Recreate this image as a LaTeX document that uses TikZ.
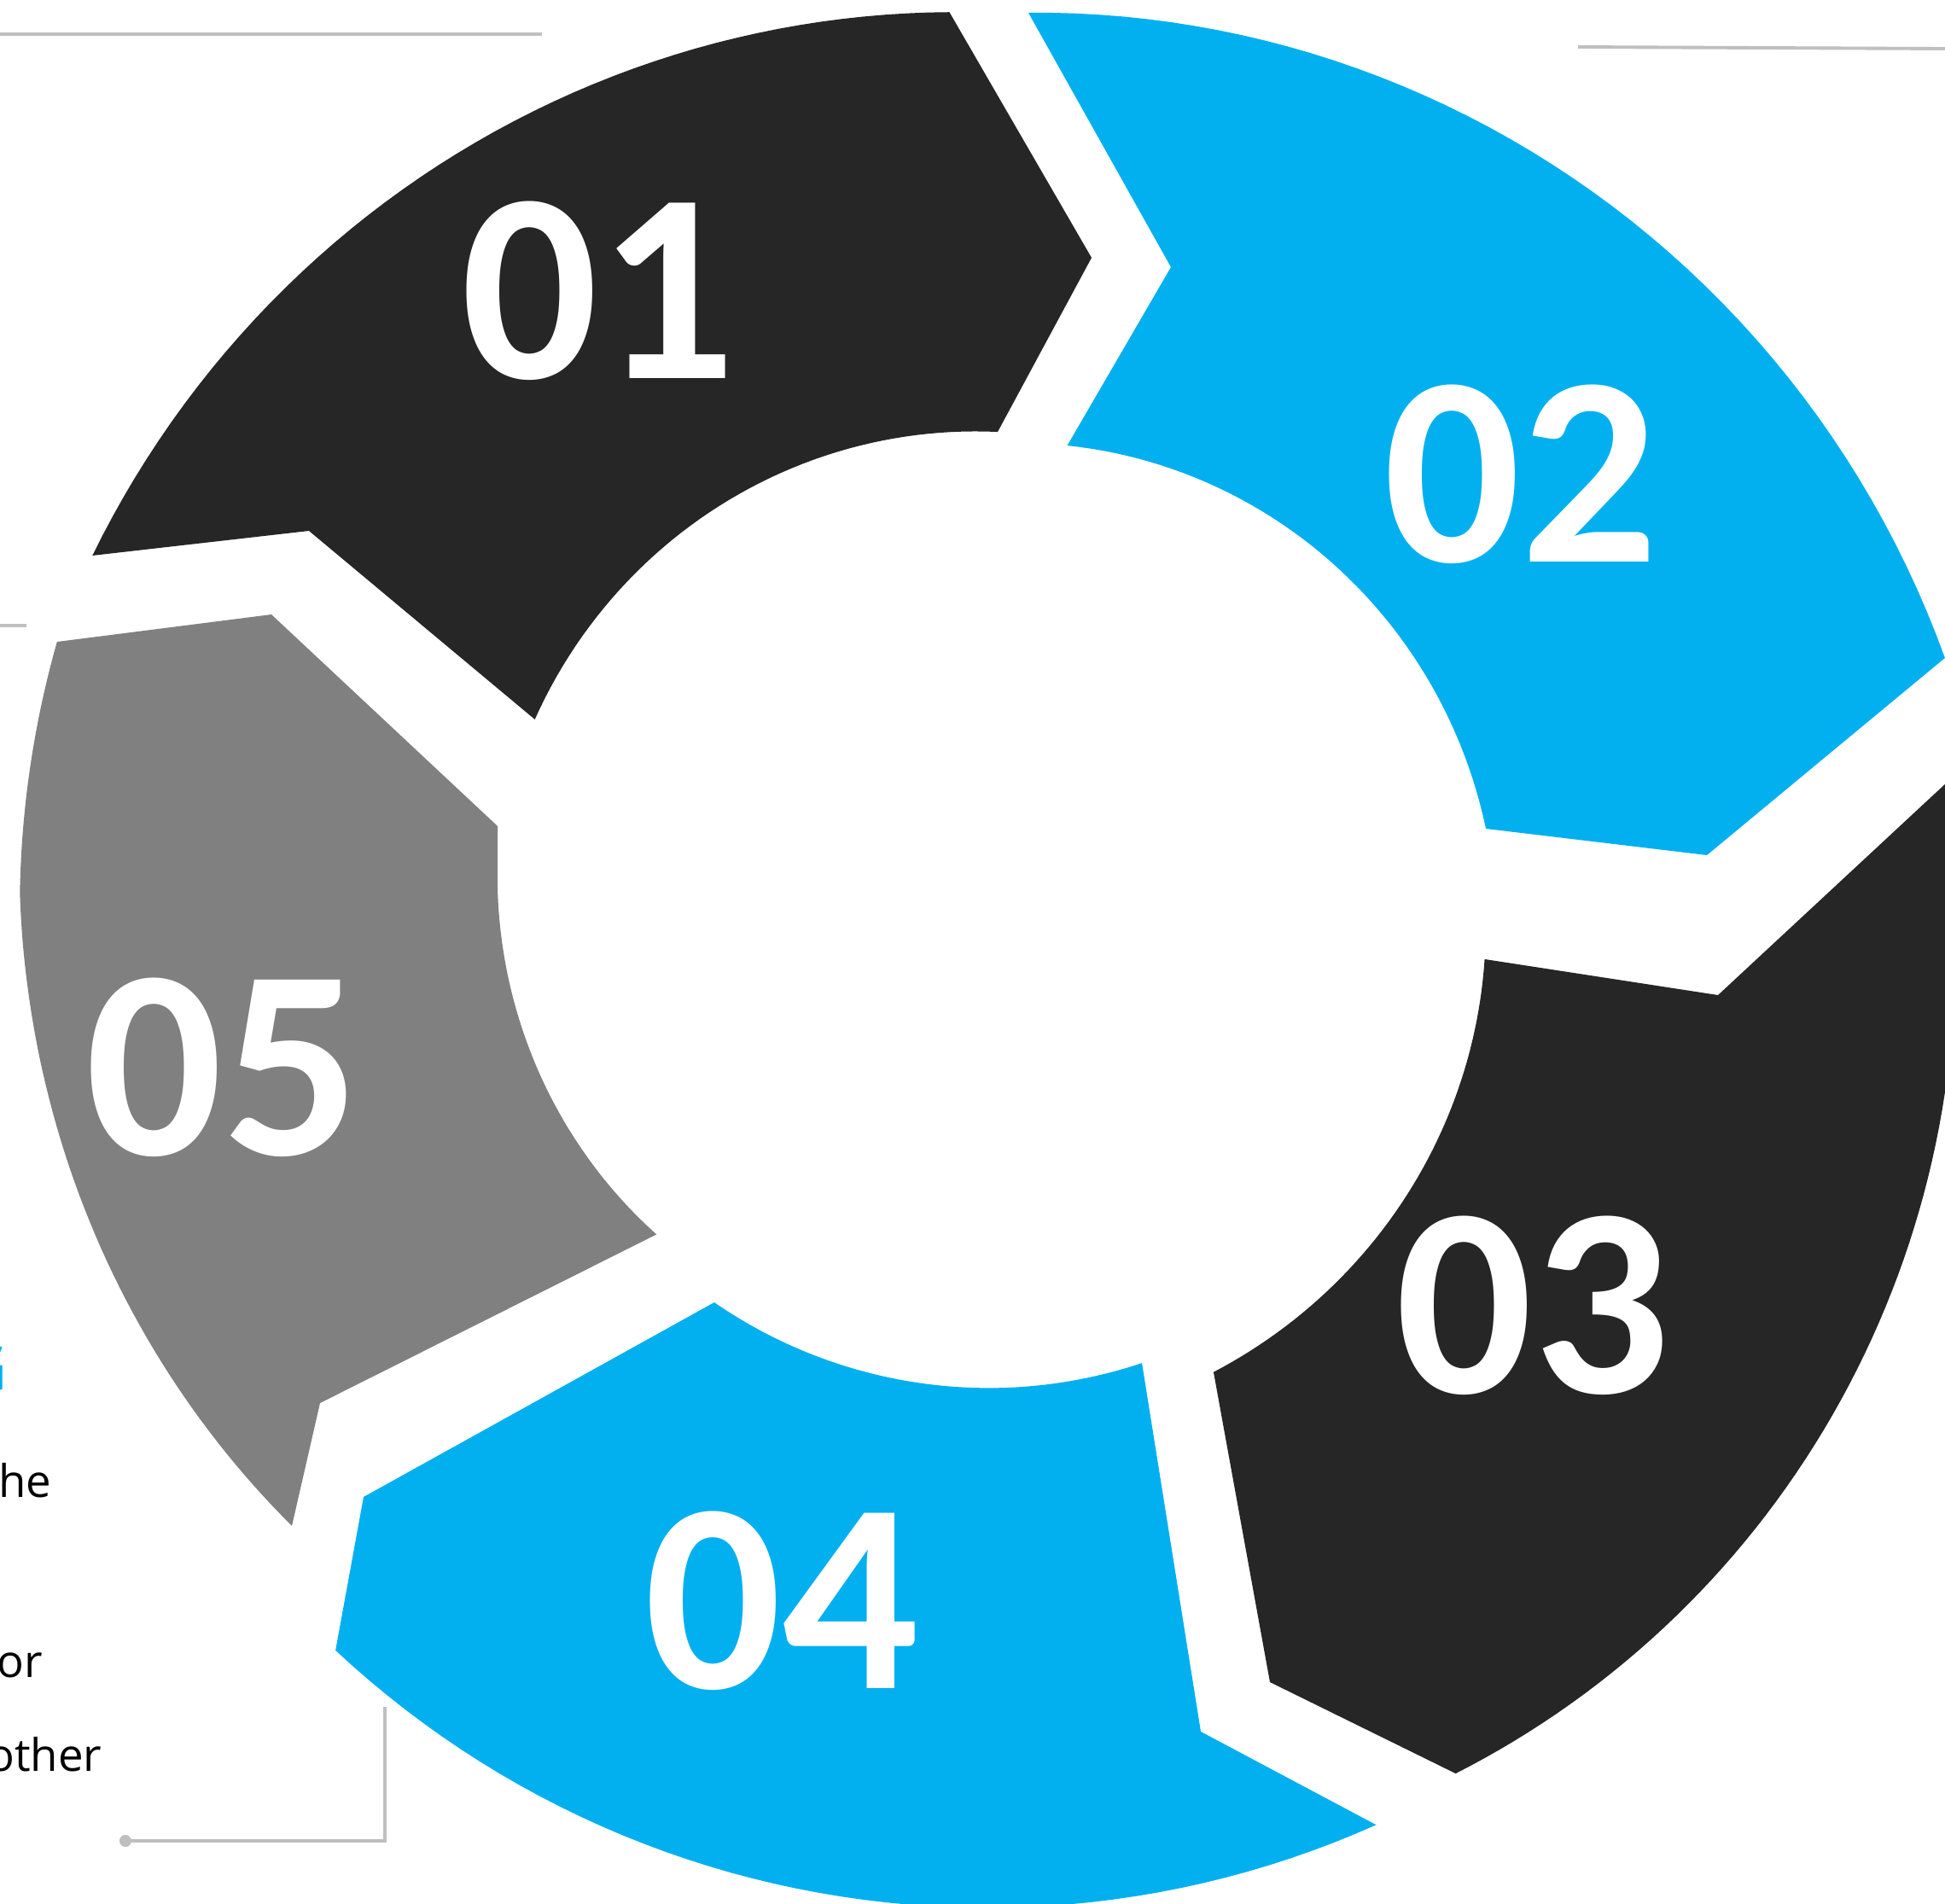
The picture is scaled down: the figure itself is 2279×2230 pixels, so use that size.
\documentclass[tikz,border=0pt]{standalone}
\usepackage{fontspec}
\setmainfont{Open Sans}
\newfontfamily\numfont{Carlito}
\usepackage{tikz}

\definecolor{darkseg}{HTML}{262626}
\definecolor{blueseg}{HTML}{02B0F0}
\definecolor{grayseg}{HTML}{808080}
\definecolor{guideline}{HTML}{BFBFBF}

% curve around centre (#1,#2) from angle #3 to #4, radius going from #5 to #6
\newcommand{\ringcurve}[6]{-- plot[domain=0:1, samples=50, variable=\s]
  ({#1+(#5+(#6-#5)*\s)*cos(#3+(#4-#3)*\s)}, {#2+(#5+(#6-#5)*\s)*sin(#3+(#4-#3)*\s)})}

\begin{document}
\begin{tikzpicture}[x=0.01cm, y=-0.01cm,
  num/.style={text=white, font=\fontsize{90pt}{90pt}\numfont\bfseries, anchor=base, inner sep=0pt},
  guide/.style={draw=guideline, line width=1.1pt},
  body/.style={font=\fontsize{15pt}{18pt}\selectfont, anchor=base east, inner sep=0pt}]

\useasboundingbox (0,0) rectangle (2279,2230);
\clip (0,0) rectangle (2279,2230);

% draw segment 01
\fill[darkseg] (108,651) \ringcurve{1163}{1119}{203.9}{267.4}{1154}{1106}
  -- (1279,302) -- (1169,506)
  \ringcurve{1163}{1061}{270.6}{202.1}{555}{579}
  -- (362,622) -- cycle;

% draw segment 02
\fill[blueseg] (1205,15) \ringcurve{1163}{1119}{272.2}{342.7}{1105}{1169}
  -- (2000,1002) -- (1741,971)
  \ringcurve{1163}{1061}{351.1}{279.2}{585}{546}
  -- (1372,313) -- cycle;

% draw segment 03
\fill[darkseg] (1740,1124) -- (2013,1166) -- (2310,890)
  -- plot[domain=0:60.5, samples=60, variable=\s]
     ({1163+(1128-26*(\s/60.5)^2)*cos(\s)}, {1119+(1128-26*(\s/60.5)^2)*sin(\s)})
  -- (1488,1971) -- (1422,1608)
  \ringcurve{1163}{1061}{64.7}{6.2}{605}{580}
  -- cycle;

% draw segment 04
\fill[blueseg] (837,1526) \ringcurve{1163}{1061}{125}{71.9}{568}{564}
  -- (1407,2029) -- (1612,2138)
  \ringcurve{1163}{1119}{66.2}{133.4}{1114}{1121}
  -- (426,1754) -- cycle;

% draw segment 05
\fill[grayseg] (67,752) -- (318,720) -- (583,968) -- (583,1047)
  \ringcurve{1163}{1061}{181.4}{135.6}{580}{551}
  -- (375,1644) -- (342,1788)
  \ringcurve{1163}{1119}{140.8}{183.6}{1059}{1142}
  \ringcurve{1163}{1119}{183.6}{198.5}{1142}{1156}
  -- cycle;

% step numbers
\node[num] (n01) at (701,443) {01};
\node[num] (n02) at (1782,658) {02};
\node[num] (n03) at (1796,1632) {03};
\node[num] (n04) at (916,1978) {04};
\node[num] (n05) at (261,1353) {05};

% guide lines
\draw[guide] (0,40) -- (635,40);
\draw[guide] (1849,55) -- (2279,57);
\draw[guide] (0,733) -- (31,733);

% callout under the text
\coordinate (calltop) at (451,2000);
\coordinate (callend) at (147,2157);
\draw[guide] (calltop) |- (callend);
\fill[guideline] (callend) circle (2pt);

% text cut off at the left edge
\node[font=\fontsize{21.5pt}{22pt}\selectfont\bfseries, text=blueseg, anchor=base east, inner sep=0pt] (head) at (10,1630) {G};
\node[body] (txtthe) at (61,1754) {the};
\node[body] (txtor) at (51,1965) {or};
\node[body] (txtother) at (120,2075) {other};

\end{tikzpicture}
\end{document}
